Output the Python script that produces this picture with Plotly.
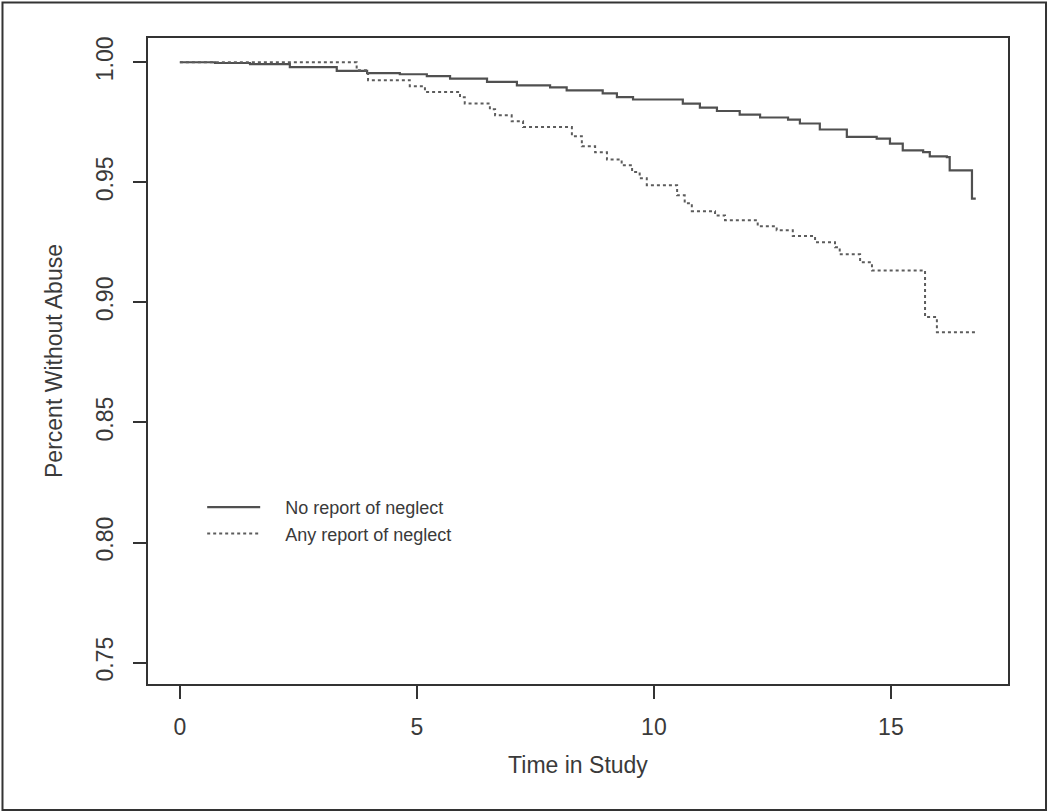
import plotly.graph_objects as go

# Kaplan-Meier style step data
no_neglect_time = [0, 0.74, 1.48, 2.32, 3.31, 3.95, 4.64, 5.21, 5.70, 6.48, 7.11, 7.81, 8.16,
                   8.92, 9.22, 9.56, 10.61, 10.97, 11.33, 11.81, 12.24, 12.83, 13.08, 13.50,
                   14.07, 14.70, 14.98, 15.25, 15.68, 15.82, 16.18, 16.24, 16.71, 16.79]
no_neglect_surv = [1.0, 0.9997, 0.9992, 0.9980, 0.9964, 0.9955, 0.9950, 0.9942, 0.9932, 0.9918,
                   0.9904, 0.9895, 0.9883, 0.9870, 0.9855, 0.9845, 0.9828, 0.9811, 0.9797, 0.9782,
                   0.9770, 0.9761, 0.9745, 0.9720, 0.9689, 0.9682, 0.9661, 0.9633, 0.9626, 0.9608,
                   0.9605, 0.9550, 0.9432, 0.9432]

any_neglect_time = [0, 3.73, 3.97, 4.85, 5.17, 5.91, 6.01, 6.54, 6.65, 7.00, 7.24, 8.27, 8.48,
                    8.76, 9.01, 9.32, 9.54, 9.70, 9.85, 10.49, 10.65, 10.80, 11.29, 11.50, 12.19,
                    12.59, 12.93, 13.40, 13.82, 13.92, 14.35, 14.60, 15.72, 15.97, 16.79]
any_neglect_surv = [1.0, 0.9967, 0.9925, 0.9900, 0.9876, 0.9854, 0.9828, 0.9804, 0.9779, 0.9754,
                    0.9730, 0.9692, 0.9650, 0.9625, 0.9595, 0.9571, 0.9543, 0.9517, 0.9488, 0.9446,
                    0.9413, 0.9380, 0.9362, 0.9342, 0.9317, 0.9300, 0.9276, 0.9251, 0.9230, 0.9200,
                    0.9167, 0.9133, 0.8939, 0.8876, 0.8876]

series_names = ["No report of neglect", "Any report of neglect"]
x_ticks = [0, 5, 10, 15]
y_ticks = [0.75, 0.80, 0.85, 0.90, 0.95, 1.00]
y_tick_text = ["0.75", "0.80", "0.85", "0.90", "0.95", "1.00"]

FONT = "Liberation Sans, Arial, sans-serif"
INK = "#333333"
TXT = "#3a3a3a"
PAD = "\u00a0" * 4

fig = go.Figure()
fig.add_trace(go.Scatter(x=no_neglect_time, y=no_neglect_surv, mode="lines",
                         line=dict(shape="hv", color="#505050", width=2.2),
                         name=PAD + series_names[0]))
fig.add_trace(go.Scatter(x=any_neglect_time, y=any_neglect_surv, mode="lines",
                         line=dict(shape="hv", color="#5c5c5c", width=2, dash="3px,3px"),
                         name=PAD + series_names[1]))

axis_common = dict(showgrid=False, zeroline=False, showline=True, mirror=True,
                   linecolor=INK, linewidth=1.6, ticks="outside", ticklen=13,
                   tickwidth=1.6, tickcolor=INK,
                   tickfont=dict(family=FONT, size=23, color=TXT))

fig.update_xaxes(range=[-0.672, 17.47], tickvals=x_ticks, ticklabelstandoff=9,
                 title=dict(text="Time in Study", font=dict(family=FONT, size=23, color=TXT),
                            standoff=17),
                 **axis_common)
fig.update_yaxes(range=[0.7411, 1.0101], tickvals=y_ticks, ticktext=y_tick_text, tickangle=-90,
                 ticklabelstandoff=11,
                 title=dict(text="Percent Without Abuse", font=dict(family=FONT, size=23, color=TXT),
                            standoff=23),
                 **axis_common)

fig.update_layout(
    width=1050, height=812,
    margin=dict(l=148, r=42, t=38, b=128),
    paper_bgcolor="white", plot_bgcolor="white",
    showlegend=True,
    legend=dict(x=0.063, y=0.302, xanchor="left", yanchor="top",
                bgcolor="rgba(0,0,0,0)", font=dict(family=FONT, size=18, color=TXT),
                itemwidth=53),
    shapes=[dict(type="rect", xref="paper", yref="paper",
                 x0=-0.1692, x1=1.0442, y0=-0.195, y1=1.055,
                 line=dict(color="#333333", width=2), fillcolor="rgba(0,0,0,0)")],
)

fig.write_html("out.html", config={"displayModeBar": False},
               post_script="document.body.style.margin='0px';document.body.style.overflow='hidden';")
